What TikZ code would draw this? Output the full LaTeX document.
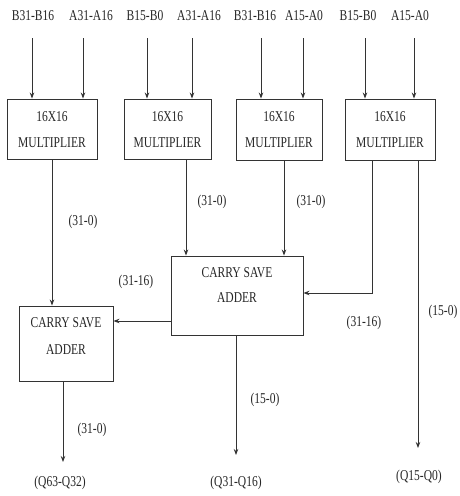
\documentclass[tikz,border=0pt]{standalone}
\usepackage{fontspec}
\setmainfont[FakeStretch=0.77]{Liberation Serif}
\usetikzlibrary{arrows.meta}
\begin{document}
\begin{tikzpicture}[x=1pt,y=-1pt,
  wire/.style={draw=black!80, line width=0.9pt},
  arr/.style={wire, -{Stealth[length=6pt,width=4.5pt]}},
  box/.style={draw=black!80, line width=0.9pt, rectangle, inner sep=0pt},
  txt/.style={font=\fontsize{15}{17}\selectfont, text=black!85, inner sep=0pt},
  btxt/.style={txt, align=center}]
\useasboundingbox (0,0) rectangle (459,496);
% input labels
\node[txt] (l1) at (33,16) {B31-B16};
\node[txt] (l2) at (91,16) {A31-A16};
\node[txt] (l3) at (145,16) {B15-B0};
\node[txt] (l4) at (199,16) {A31-A16};
\node[txt] (l5) at (255,16) {B31-B16};
\node[txt] (l6) at (304,16) {A15-A0};
\node[txt] (l7) at (358,16) {B15-B0};
\node[txt] (l8) at (410,16) {A15-A0};
% multipliers
\node[box, minimum width=90pt, minimum height=60pt] (m1) at (52,129) {};
\node[box, minimum width=87pt, minimum height=60pt] (m2) at (167.5,129) {};
\node[box, minimum width=86pt, minimum height=61pt] (m3) at (279,129.5) {};
\node[box, minimum width=90pt, minimum height=61pt] (m4) at (390,129.5) {};
\foreach \n/\x in {1/52,2/167.5,3/279,4/390}{
  \node[txt] (m\n a) at (\x,117) {16X16};
  \node[txt] (m\n b) at (\x,143) {MULTIPLIER};
}
% carry save adders
\node[box, minimum width=132pt, minimum height=79pt] (c1) at (237,295.5) {};
\node[txt] (c1a) at (237,273) {CARRY SAVE};
\node[txt] (c1b) at (237,298) {ADDER};
\node[box, minimum width=94pt, minimum height=75pt] (c2) at (66,343.5) {};
\node[txt] (c2a) at (66,323) {CARRY SAVE};
\node[txt] (c2b) at (66,350) {ADDER};
% input arrows
\foreach \x/\m in {32/m1,83/m1,147/m2,192/m2,261/m3,303/m3,365/m4,414/m4}{
  \coordinate (s) at (\x,38);
  \draw[arr] (s) -- (s |- \m.north);
}
% internal connections
\coordinate (p1) at (52,159);
\draw[arr] (p1) -- (p1 |- c2.north);
\coordinate (p2) at (186,159);
\draw[arr] (p2) -- (p2 |- c1.north);
\coordinate (p3) at (284,160);
\draw[arr] (p3) -- (p3 |- c1.north);
\coordinate (p4) at (372,160);
\coordinate (p4b) at (372,293);
\draw[arr] (p4) -- (p4b) -- (p4b -| c1.east);
\coordinate (p5) at (418,160);
\coordinate (q3) at (418,448);
\draw[arr] (p5) -- (q3);
\coordinate (p6) at (171,321);
\draw[arr] (p6) -- (p6 -| c2.east);
\coordinate (p7) at (63,381);
\coordinate (q1) at (63,462);
\draw[arr] (p7) -- (q1);
\coordinate (p8) at (236,335);
\coordinate (q2) at (236,455);
\draw[arr] (p8) -- (q2);
% bit labels
\node[txt] (b1) at (83,222) {(31-0)};
\node[txt] (b2) at (212,202) {(31-0)};
\node[txt] (b3) at (311,202) {(31-0)};
\node[txt] (b4) at (136,282) {(31-16)};
\node[txt] (b5) at (364,323) {(31-16)};
\node[txt] (b6) at (443,312) {(15-0)};
\node[txt] (b7) at (92,430) {(31-0)};
\node[txt] (b8) at (265,400) {(15-0)};
% outputs
\node[txt] (o1) at (60,483) {(Q63-Q32)};
\node[txt] (o2) at (236,483) {(Q31-Q16)};
\node[txt] (o3) at (419,477) {(Q15-Q0)};
\end{tikzpicture}
\end{document}
